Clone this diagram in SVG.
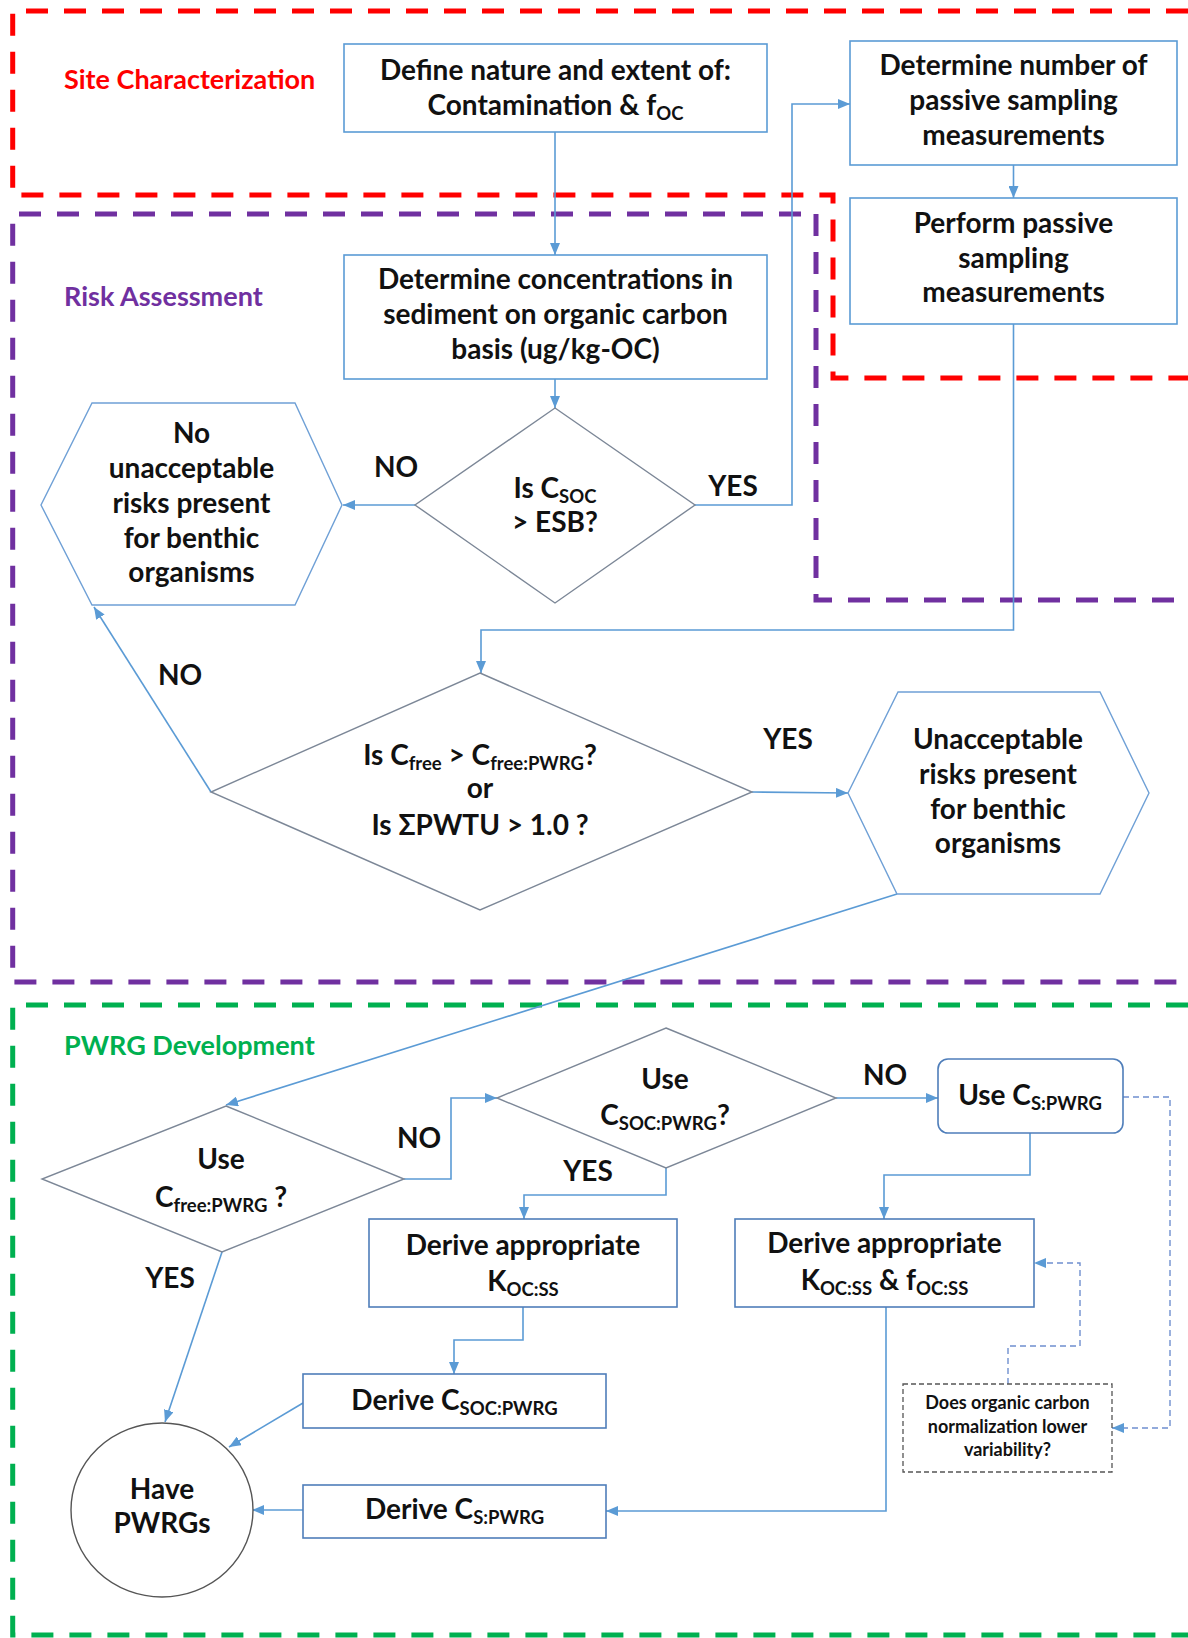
<svg xmlns="http://www.w3.org/2000/svg" width="1188" height="1638" viewBox="0 0 1188 1638">
<style>
.t{font-family:Lato,"Liberation Sans",sans-serif;font-weight:700;font-size:28px;fill:#111;text-anchor:middle}
.s{font-size:18.5px}
.small{font-size:18px}
.sec{font-family:Lato,"Liberation Sans",sans-serif;font-weight:700;font-size:27px}
.box{fill:#fff;stroke:#5B9BD5;stroke-width:1.6}
.box2{fill:#fff;stroke:#4F7EBA;stroke-width:1.6}
.dia{fill:#fff;stroke:#7C8797;stroke-width:1.4}
.hex{fill:#fff;stroke:#6FA0D6;stroke-width:1.4}
.c{fill:none;stroke:#5B9BD5;stroke-width:1.6}
.cd{fill:none;stroke:#6F8FCF;stroke-width:1.4;stroke-dasharray:6 4}
.reg{fill:none;stroke-width:5;stroke-dasharray:22 16}
</style>
<defs>
<marker id="ah" markerUnits="userSpaceOnUse" markerWidth="12" markerHeight="10" refX="12" refY="5" orient="auto">
<path d="M0,0 L12,5 L0,10 z" fill="#5B9BD5"/>
</marker>
</defs>
<rect x="0" y="0" width="1188" height="1638" fill="#fff"/>

<g id="regions">
<path class="reg" stroke="#FF0000" d="M1188,11 H12.7 V195 H833 V378 H1188"/>
<path class="reg" stroke="#7030A0" stroke-width="4.5" d="M801,214 H12.7 V982 H1188 M816,214 V600 H1188"/>
<path class="reg" stroke="#00B050" stroke-width="4.5" d="M1188,1005 H12.7 V1635 H1188"/>
<text class="sec" x="64" y="89" fill="#FF0000">Site Characterization</text>
<text class="sec" x="64" y="306" fill="#7030A0">Risk Assessment</text>
<text class="sec" x="64" y="1055" fill="#00B050">PWRG Development</text>
</g>

<g id="connectors">
<path class="c" marker-end="url(#ah)" d="M555,132 V255"/>
<path class="c" marker-end="url(#ah)" d="M555,379 V408"/>
<path class="c" marker-end="url(#ah)" d="M415,505 H343"/>
<path class="c" marker-end="url(#ah)" d="M695,505 H792 V104 H850"/>
<path class="c" marker-end="url(#ah)" d="M1013.5,165 V198"/>
<path class="c" marker-end="url(#ah)" d="M1013.5,324 V630 H481 V673"/>
<path class="c" marker-end="url(#ah)" d="M211,792 L94,607"/>
<path class="c" marker-end="url(#ah)" d="M752,792 L848,793"/>
<path class="c" marker-end="url(#ah)" d="M897,894 L226,1105"/>
<path class="c" marker-end="url(#ah)" d="M404,1179 H451 V1098 H497"/>
<path class="c" marker-end="url(#ah)" d="M836,1098 H938"/>
<path class="c" marker-end="url(#ah)" d="M666,1168 V1195 H524 V1219"/>
<path class="c" marker-end="url(#ah)" d="M1030,1133 V1175 H884 V1219"/>
<path class="c" marker-end="url(#ah)" d="M523,1307 V1340 H454 V1374"/>
<path class="c" marker-end="url(#ah)" d="M886,1307 V1511 H606"/>
<path class="c" marker-end="url(#ah)" d="M222,1252 L165,1422"/>
<path class="c" marker-end="url(#ah)" d="M303,1403 L229,1447"/>
<path class="c" marker-end="url(#ah)" d="M303,1510 H252"/>
<path class="cd" marker-end="url(#ah)" d="M1123,1097 H1170 V1428 H1112"/>
<path class="cd" marker-end="url(#ah)" d="M1008,1384 V1346 H1080 V1263 H1034"/>
<text class="t" x="396" y="477">NO</text>
<text class="t" x="733" y="496">YES</text>
<text class="t" x="180" y="685">NO</text>
<text class="t" x="788" y="749">YES</text>
<text class="t" x="419" y="1148">NO</text>
<text class="t" x="885" y="1085">NO</text>
<text class="t" x="588" y="1181">YES</text>
<text class="t" x="170" y="1288">YES</text>
</g>

<g id="define">
<rect class="box" x="344" y="44" width="423" height="88"/>
<text class="t" x="555.5" y="80">Define nature and extent of:</text>
<text class="t" x="555.5" y="115">Contamination &amp; f<tspan class="s" dy="5">OC</tspan></text>
</g>

<g id="determine-number">
<rect class="box" x="850" y="41" width="327" height="124"/>
<text class="t" x="1013.5" y="75">Determine number of</text>
<text class="t" x="1013.5" y="110">passive sampling</text>
<text class="t" x="1013.5" y="145">measurements</text>
</g>

<g id="perform">
<rect class="box" x="850" y="198" width="327" height="126"/>
<text class="t" x="1013.5" y="233">Perform passive</text>
<text class="t" x="1013.5" y="268">sampling</text>
<text class="t" x="1013.5" y="302">measurements</text>
</g>

<g id="concentrations">
<rect class="box" x="344" y="255" width="423" height="124"/>
<text class="t" x="555.5" y="289">Determine concentrations in</text>
<text class="t" x="555.5" y="324">sediment on organic carbon</text>
<text class="t" x="555.5" y="359">basis (ug/kg-OC)</text>
</g>

<g id="esb-check">
<polygon class="dia" points="555,408 695,505 555,603 415,505"/>
<text class="t" x="555" y="498">Is C<tspan class="s" dy="5">SOC</tspan></text>
<text class="t" x="555" y="532">&gt; ESB?</text>
</g>

<g id="no-risk">
<polygon class="hex" points="92,403 295,403 342,505 295,605 92,605 41,505"/>
<text class="t" x="191.5" y="443">No</text>
<text class="t" x="191.5" y="478">unacceptable</text>
<text class="t" x="191.5" y="513">risks present</text>
<text class="t" x="191.5" y="548">for benthic</text>
<text class="t" x="191.5" y="582">organisms</text>
</g>

<g id="cfree-check">
<polygon class="dia" points="480,673 752,792 480,910 211,792"/>
<text class="t" x="480" y="765">Is C<tspan class="s" dy="5">free</tspan><tspan dy="-5"> &gt; C</tspan><tspan class="s" dy="5">free:PWRG</tspan><tspan dy="-5">?</tspan></text>
<text class="t" x="480" y="798">or</text>
<text class="t" x="480" y="835">Is ΣPWTU &gt; 1.0 ?</text>
</g>

<g id="risk">
<polygon class="hex" points="898,692 1100,692 1149,793 1100,894 897,894 848,793"/>
<text class="t" x="998" y="749">Unacceptable</text>
<text class="t" x="998" y="784">risks present</text>
<text class="t" x="998" y="819">for benthic</text>
<text class="t" x="998" y="853">organisms</text>
</g>

<g id="use-cfree">
<polygon class="dia" points="226,1106 404,1179 222,1252 42,1179"/>
<text class="t" x="221" y="1169">Use</text>
<text class="t" x="221" y="1207">C<tspan class="s" dy="5">free:PWRG</tspan><tspan dy="-5"> ?</tspan></text>
</g>

<g id="use-csoc">
<polygon class="dia" points="666,1028 836,1098 666,1168 497,1098"/>
<text class="t" x="665" y="1089">Use</text>
<text class="t" x="665" y="1125">C<tspan class="s" dy="5">SOC:PWRG</tspan><tspan dy="-5">?</tspan></text>
</g>

<g id="use-cs">
<rect class="box2" x="938" y="1059" width="185" height="74" rx="10"/>
<text class="t" x="1030" y="1105">Use C<tspan class="s" dy="5">S:PWRG</tspan></text>
</g>

<g id="derive-koc">
<rect class="box2" x="369" y="1219" width="308" height="88"/>
<text class="t" x="523" y="1255">Derive appropriate</text>
<text class="t" x="523" y="1291">K<tspan class="s" dy="5">OC:SS</tspan></text>
</g>

<g id="derive-koc-foc">
<rect class="box2" x="735" y="1219" width="299" height="88"/>
<text class="t" x="884.5" y="1253">Derive appropriate</text>
<text class="t" x="884.5" y="1290">K<tspan class="s" dy="5">OC:SS</tspan><tspan dy="-5"> &amp; f</tspan><tspan class="s" dy="5">OC:SS</tspan></text>
</g>

<g id="derive-csoc">
<rect class="box2" x="303" y="1374" width="303" height="54"/>
<text class="t" x="454.5" y="1410">Derive C<tspan class="s" dy="5">SOC:PWRG</tspan></text>
</g>

<g id="derive-cs">
<rect class="box2" x="303" y="1485" width="303" height="53"/>
<text class="t" x="454.5" y="1519">Derive C<tspan class="s" dy="5">S:PWRG</tspan></text>
</g>

<g id="normalization">
<rect x="903" y="1384" width="209" height="88" fill="#fff" stroke="#555" stroke-width="1.3" stroke-dasharray="5 3"/>
<text class="t small" x="1007.5" y="1409">Does organic carbon</text>
<text class="t small" x="1007.5" y="1433">normalization lower</text>
<text class="t small" x="1007.5" y="1456">variability?</text>
</g>

<g id="have-pwrgs">
<ellipse cx="162" cy="1510" rx="91" ry="87" fill="#fff" stroke="#555" stroke-width="1.4"/>
<text class="t" x="162" y="1499">Have</text>
<text class="t" x="162" y="1533">PWRGs</text>
</g>
</svg>
